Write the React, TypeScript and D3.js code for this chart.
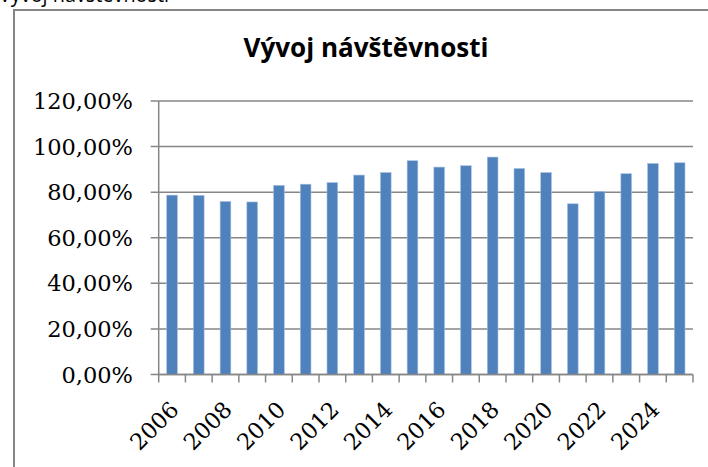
import React from "react";
import * as d3 from "d3";

const years = [
  "2006", "2007", "2008", "2009", "2010", "2011", "2012", "2013", "2014", "2015",
  "2016", "2017", "2018", "2019", "2020", "2021", "2022", "2023", "2024", "2025",
];
const attendance = [
  78.7, 78.6, 75.9, 75.7, 83.0, 83.5, 84.2, 87.5, 88.6, 93.8,
  91.0, 91.6, 95.4, 90.4, 88.6, 74.9, 80.3, 88.1, 92.6, 92.9,
];
const yTicks = [0, 20, 40, 60, 80, 100, 120];
const yTickLabels = ["0,00%", "20,00%", "40,00%", "60,00%", "80,00%", "100,00%", "120,00%"];
const xLabelYears = ["2006", "2008", "2010", "2012", "2014", "2016", "2018", "2020", "2022", "2024"];
const title = "Vývoj návštěvnosti";

export default function App() {
  const W = 708;
  const H = 467;
  const left = 158.7;
  const right = 693;
  const top = 101;
  const bottom = 374.5;

  const x = d3.scaleBand<string>().domain(years).range([left, right]).paddingInner(0.6).paddingOuter(0.3);
  const xb = d3.scaleBand<string>().domain(years).range([left, right]);
  const y = d3.scaleLinear().domain([0, 120]).range([bottom, top]);

  const grid = "#868686";
  const serif = "'DejaVu Serif', serif";

  return (
    <div style={{ position: "fixed", left: 0, top: 0, width: W, height: H, background: "#fff" }}>
      <svg width={W} height={H} style={{ display: "block" }}>
        <rect x={0} y={0} width={W} height={H} fill="#fff" />
        {/* cropped heading above chart */}
        <text x={-1} y={2} fontFamily="'Open Sans', sans-serif" fontSize={21} textLength={170} lengthAdjust="spacingAndGlyphs" fill="#000">
          {title}
        </text>
        {/* chart frame */}
        <rect x={14} y={10} width={W + 20} height={H + 20} fill="none" stroke={grid} strokeWidth={2} />
        {/* chart title */}
        <text
          x={366}
          y={57}
          textAnchor="middle"
          fontFamily="'Open Sans', sans-serif"
          fontWeight="bold"
          fontSize={27}
          textLength={245}
          lengthAdjust="spacingAndGlyphs"
          fill="#000"
        >
          {title}
        </text>
        {/* gridlines and y ticks */}
        {yTicks.map((t, i) => (
          <g key={t}>
            <line x1={left - 8} x2={right} y1={y(t)} y2={y(t)} stroke={grid} strokeWidth={1.5} />
            <text
              x={133}
              y={y(t)}
              dy="0.36em"
              textAnchor="end"
              fontFamily={serif}
              fontSize={22.5}
              fill="#000"
            >
              {yTickLabels[i]}
            </text>
          </g>
        ))}
        {/* bars */}
        {years.map((yr, i) => (
          <rect
            key={yr}
            x={x(yr)}
            y={y(attendance[i])}
            width={x.bandwidth()}
            height={bottom - y(attendance[i])}
            fill="#4F81BD"
            stroke="#A7C0DE"
            strokeWidth={0.6}
          />
        ))}
        {/* y axis */}
        <line x1={left} x2={left} y1={top} y2={bottom} stroke={grid} strokeWidth={1.5} />
        {/* x axis */}
        <line x1={left} x2={right} y1={bottom} y2={bottom} stroke={grid} strokeWidth={1.5} />
        {years.concat(["end"]).map((yr, i) => {
          const px = i < years.length ? (xb(yr) as number) : right;
          return <line key={"t" + i} x1={px} x2={px} y1={bottom} y2={bottom + 8} stroke={grid} strokeWidth={1.5} />;
        })}
        {xLabelYears.map((yr) => {
          const cx = (xb(yr) as number) + xb.bandwidth() / 2;
          return (
            <text
              key={"l" + yr}
              transform={`translate(${cx + 8},${411}) rotate(-45)`}
              textAnchor="end"
              fontFamily={serif}
              fontSize={22.5}
              fill="#000"
            >
              {yr}
            </text>
          );
        })}
      </svg>
    </div>
  );
}
